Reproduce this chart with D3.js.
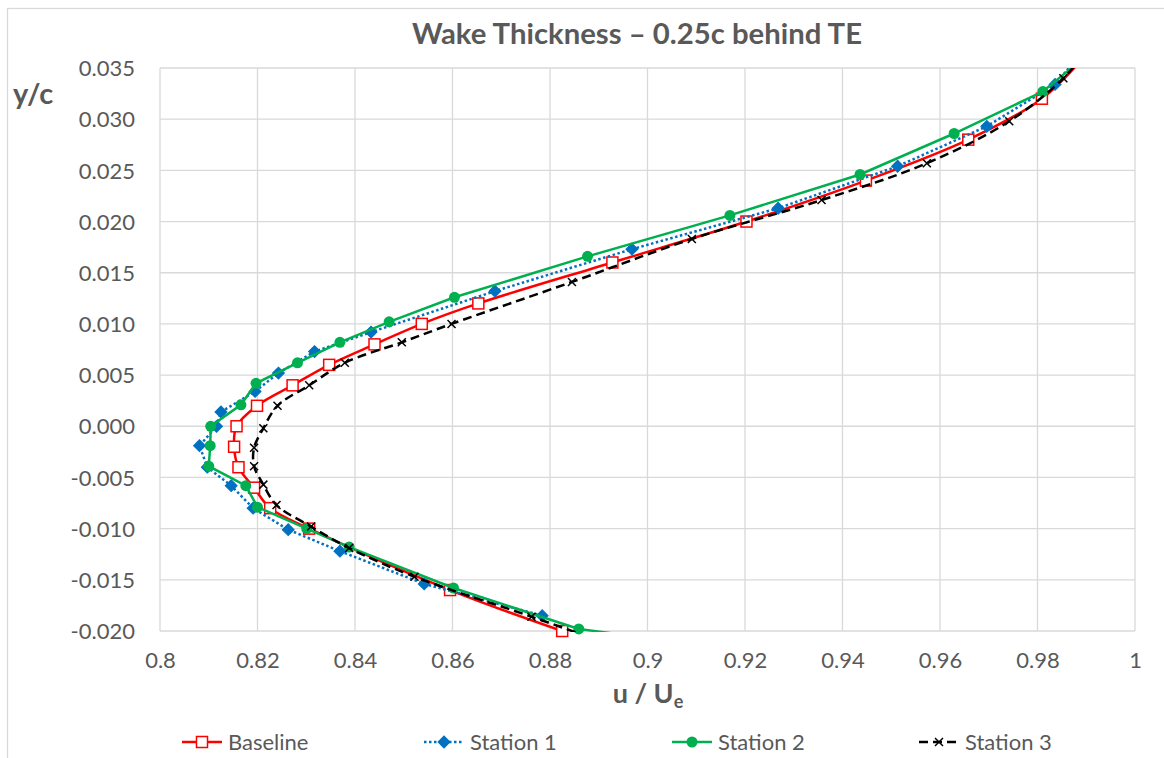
<!DOCTYPE html>
<html>
<head>
<meta charset="utf-8">
<script src="https://cdn.jsdelivr.net/npm/d3@7"></script>
<style>
  html, body { margin: 0; padding: 0; background: #fff; }
  svg { display: block; }
  text { font-family: Lato, "Open Sans", sans-serif; fill: #595959; }
</style>
</head>
<body>
<svg id="chart" width="1164" height="758"></svg>
<script>
// Wake velocity profiles, 0.25c behind the trailing edge
const baselineY = [-0.020, -0.016, -0.010, -0.008, -0.006, -0.004, -0.002, 0.000, 0.002, 0.004, 0.006, 0.008, 0.010, 0.012, 0.016, 0.020, 0.024, 0.028, 0.032, 0.036];
const baselineU = [0.8825, 0.8595, 0.8306, 0.8226, 0.8193, 0.8161, 0.8152, 0.8157, 0.8199, 0.8272, 0.8347, 0.8440, 0.8537, 0.8653, 0.8928, 0.9203, 0.9448, 0.9658, 0.9809, 0.9894];

const station1Y = [-0.0185, -0.0154, -0.0122, -0.0101, -0.0080, -0.0058, -0.0040, -0.0019, 0.0000, 0.0014, 0.0034, 0.0052, 0.0073, 0.0092, 0.0132, 0.0173, 0.0213, 0.0254, 0.0293, 0.0334, 0.0370];
const station1U = [0.8784, 0.8542, 0.8369, 0.8263, 0.8191, 0.8146, 0.8097, 0.8081, 0.8116, 0.8125, 0.8195, 0.8243, 0.8317, 0.8433, 0.8687, 0.8968, 0.9268, 0.9513, 0.9696, 0.9836, 0.9900];

const station2Y = [-0.0210, -0.0198, -0.0158, -0.0118, -0.0100, -0.0079, -0.0058, -0.0039, -0.0019, 0.0000, 0.0021, 0.0042, 0.0062, 0.0082, 0.0102, 0.0126, 0.0166, 0.0206, 0.0246, 0.0286, 0.0327, 0.0365];
const station2U = [0.9050, 0.8859, 0.8602, 0.8388, 0.8301, 0.8200, 0.8176, 0.8100, 0.8103, 0.8104, 0.8166, 0.8197, 0.8282, 0.8369, 0.8470, 0.8604, 0.8877, 0.9169, 0.9436, 0.9629, 0.9811, 0.9908];

const station3Y = [-0.0215, -0.0186, -0.0147, -0.0119, -0.0098, -0.0077, -0.0057, -0.0039, -0.0021, -0.0002, 0.0020, 0.0040, 0.0062, 0.0082, 0.0100, 0.0141, 0.0183, 0.0221, 0.0257, 0.0298, 0.0340, 0.0370];
const station3U = [0.8933, 0.8762, 0.8522, 0.8388, 0.8310, 0.8239, 0.8212, 0.8193, 0.8193, 0.8212, 0.8241, 0.8306, 0.8379, 0.8496, 0.8598, 0.8845, 0.9091, 0.9357, 0.9573, 0.9742, 0.9853, 0.9905];

const seriesNames = ["Baseline", "Station 1", "Station 2", "Station 3"];
const xTicks = [0.8, 0.82, 0.84, 0.86, 0.88, 0.9, 0.92, 0.94, 0.96, 0.98, 1];
const yTicks = [-0.020, -0.015, -0.010, -0.005, 0.000, 0.005, 0.010, 0.015, 0.020, 0.025, 0.030, 0.035];

const titleText = "Wake Thickness \u2013 0.25c behind TE";

const svg = d3.select("#chart");
const plot = { left: 160, right: 1135, top: 68, bottom: 631 };

const x = d3.scaleLinear().domain([0.8, 1.0]).range([plot.left, plot.right]);
const y = d3.scaleLinear().domain([-0.020, 0.035]).range([plot.bottom, plot.top]);

// chart frame
svg.append("rect")
  .attr("x", 7.5).attr("y", 8.5)
  .attr("width", 1200).attr("height", 800)
  .attr("fill", "none").attr("stroke", "#D9D9D9").attr("stroke-width", 1.3);

// gridlines
const grid = svg.append("g");
grid.selectAll("line.v").data(xTicks).join("line")
  .attr("x1", d => x(d)).attr("x2", d => x(d))
  .attr("y1", plot.top).attr("y2", plot.bottom)
  .attr("stroke", "#D9D9D9").attr("stroke-width", 1.3);
grid.selectAll("line.h").data(yTicks).join("line")
  .attr("x1", plot.left).attr("x2", plot.right)
  .attr("y1", d => y(d)).attr("y2", d => y(d))
  .attr("stroke", "#D9D9D9").attr("stroke-width", 1.3);

// axes (labels only, Excel-style)
const xAxis = d3.axisBottom(x).tickValues(xTicks).tickSize(0).tickPadding(0)
  .tickFormat(d => String(+d.toFixed(2)));
const gx = svg.append("g").attr("transform", `translate(0,${plot.bottom + 37})`).call(xAxis);
gx.select(".domain").remove();
gx.selectAll("text").attr("font-size", 22).attr("fill", "#595959")
  .attr("font-family", "Lato, sans-serif").attr("dy", "0");

const yAxis = d3.axisLeft(y).tickValues(yTicks).tickSize(0).tickPadding(0)
  .tickFormat(d => d3.format(".3f")(d).replace("\u2212", "-"));
const gy = svg.append("g").attr("transform", `translate(${plot.left - 25},0)`).call(yAxis);
gy.select(".domain").remove();
gy.selectAll("text").attr("font-size", 22).attr("fill", "#595959")
  .attr("font-family", "Lato, sans-serif").attr("dy", "0.35em");

// titles
svg.append("text").attr("x", 637).attr("y", 44).attr("text-anchor", "middle")
  .attr("font-size", 28).attr("font-weight", "bold")
  .attr("textLength", 450).attr("lengthAdjust", "spacingAndGlyphs")
  .text(titleText);

svg.append("text").attr("x", 13).attr("y", 104)
  .attr("font-size", 29).attr("font-weight", "bold").attr("fill", "#404040")
  .text("y/c");

const xl = svg.append("text").attr("x", 648).attr("y", 703).attr("text-anchor", "middle")
  .attr("font-size", 27).attr("font-weight", "bold");
xl.append("tspan").text("u / U");
xl.append("tspan").attr("font-size", 18).attr("dy", 5).text("e");

// series
const clip = svg.append("defs").append("clipPath").attr("id", "plotClip");
clip.append("rect").attr("x", plot.left).attr("y", plot.top)
  .attr("width", plot.right - plot.left).attr("height", plot.bottom - plot.top + 1);

const series = [
  { name: seriesNames[0], u: baselineU, yv: baselineY, color: "#FF0000", dash: null, curve: d3.curveCatmullRom.alpha(0.5), marker: "square" },
  { name: seriesNames[1], u: station1U, yv: station1Y, color: "#0070C0", dash: "2.5,2.5", curve: d3.curveLinear, marker: "diamond" },
  { name: seriesNames[2], u: station2U, yv: station2Y, color: "#00B050", dash: null, curve: d3.curveLinear, marker: "circle" },
  { name: seriesNames[3], u: station3U, yv: station3Y, color: "#000000", dash: "9,5", curve: d3.curveCatmullRom.alpha(0.5), marker: "x" }
];

function drawMarker(g, type, color, cx, cy) {
  if (type === "square") {
    g.append("rect").attr("x", cx - 5.5).attr("y", cy - 5.5).attr("width", 11).attr("height", 11)
      .attr("fill", "#fff").attr("stroke", color).attr("stroke-width", 1.5);
  } else if (type === "diamond") {
    g.append("rect").attr("x", -4.2).attr("y", -4.2).attr("width", 8.4).attr("height", 8.4)
      .attr("transform", `translate(${cx},${cy}) rotate(45)`)
      .attr("fill", color).attr("stroke", color).attr("stroke-width", 1);
  } else if (type === "circle") {
    g.append("circle").attr("cx", cx).attr("cy", cy).attr("r", 5.5).attr("fill", color);
  } else if (type === "x") {
    const s = 4;
    g.append("path")
      .attr("d", `M${cx - s},${cy - s}L${cx + s},${cy + s}M${cx - s},${cy + s}L${cx + s},${cy - s}`)
      .attr("stroke", color).attr("stroke-width", 1.5).attr("fill", "none");
  }
}

const inside = d => d[1] >= -0.0201 && d[1] <= 0.035;
series.forEach(s => {
  const pts = s.u.map((u, i) => [u, s.yv[i]]);
  const line = d3.line().x(d => x(d[0])).y(d => y(d[1])).curve(s.curve);
  svg.append("path").datum(pts).attr("d", line)
    .attr("clip-path", "url(#plotClip)")
    .attr("fill", "none").attr("stroke", s.color).attr("stroke-width", 2.5)
    .attr("stroke-dasharray", s.dash);
  const mg = svg.append("g");
  pts.filter(inside).forEach(d => drawMarker(mg, s.marker, s.color, x(d[0]), y(d[1])));
});

// legend
const legendX = [182, 424, 672, 919];
const legendY = 742;
const lg = svg.append("g");
series.forEach((s, i) => {
  const x0 = legendX[i];
  lg.append("line").attr("x1", x0).attr("x2", x0 + 40).attr("y1", legendY).attr("y2", legendY)
    .attr("stroke", s.color).attr("stroke-width", 2.5).attr("stroke-dasharray", s.dash);
  drawMarker(lg, s.marker, s.color, x0 + 20, legendY);
  lg.append("text").attr("x", x0 + 46).attr("y", legendY).attr("dy", "0.35em")
    .attr("font-size", 22).text(s.name);
});
</script>
</body>
</html>
